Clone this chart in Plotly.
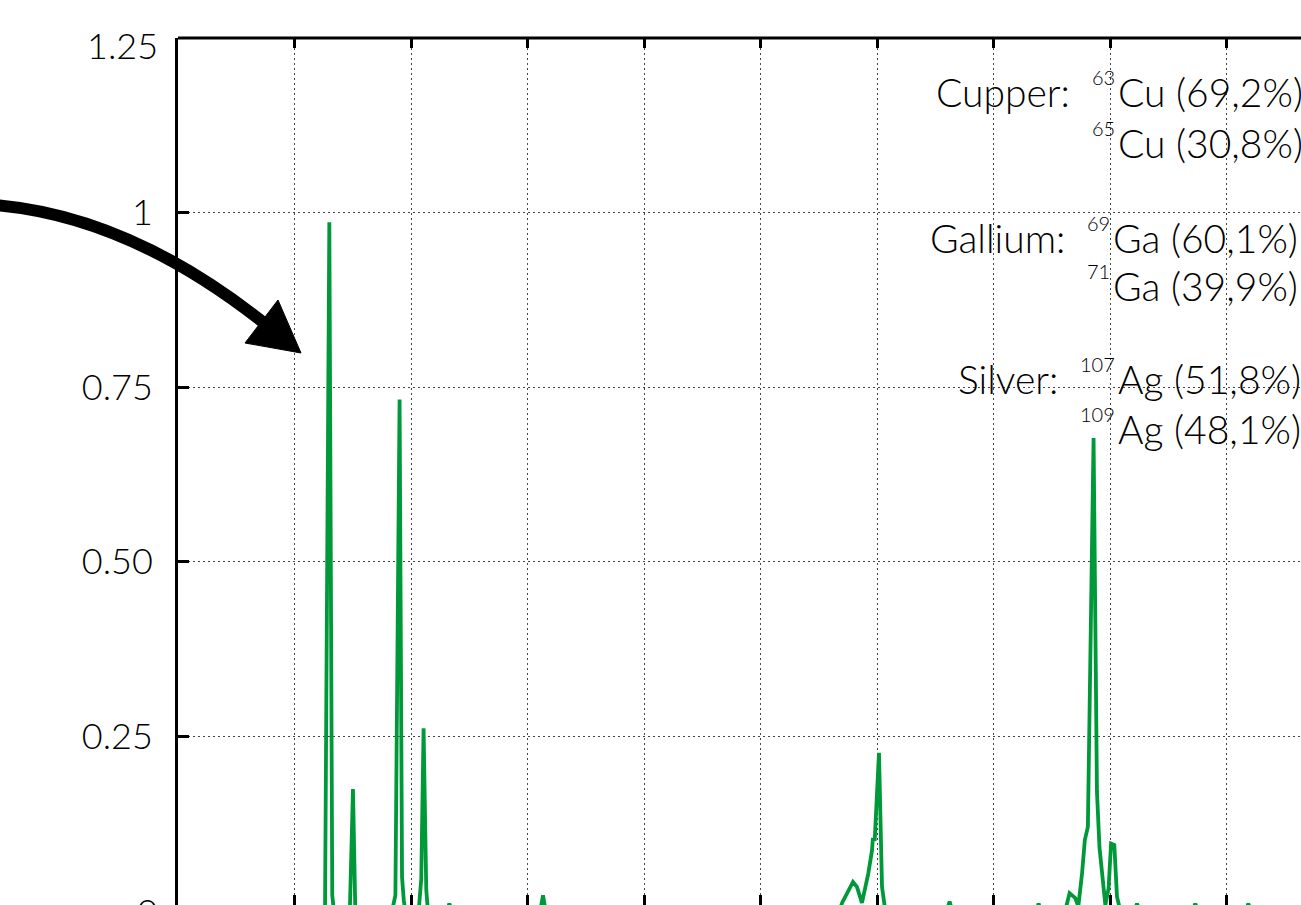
import plotly.graph_objects as go

# Mass spectrum (m/z vs normalised intensity)
mz = [50.0, 62.62, 62.99, 63.18, 63.24, 63.38,
      64.75, 65.02, 65.22,
      68.38, 68.66, 69.02, 69.17, 69.23, 69.38, 69.50,
      70.66, 70.88, 71.08, 71.24, 71.31, 71.45,
      73.10, 73.29, 73.50,
      81.10, 81.33, 81.55,
      106.80, 107.00, 107.94, 108.28, 108.71, 109.25, 109.57, 109.65, 109.80,
      110.17, 110.43, 110.71,
      116.00, 116.23, 116.45,
      123.70, 123.87, 124.05,
      126.16, 126.53, 127.02, 127.28, 127.60, 127.84, 128.10, 128.59, 128.88,
      129.10, 129.45, 129.60, 129.88, 130.09, 130.37, 130.60, 130.88,
      132.10, 132.32, 132.55,
      137.10, 137.32, 137.55,
      141.65, 141.87, 142.10, 146.5]
intensity = [0.0, 0.0, 0.986, 0.025, 0.022, 0.0,
             0.0, 0.174, 0.0,
             0.0, 0.022, 0.732, 0.06, 0.048, 0.015, 0.0,
             0.0, 0.045, 0.261, 0.05, 0.03, 0.0,
             0.0, 0.01, 0.0,
             0.0, 0.022, 0.0,
             0.0, 0.011, 0.041, 0.034, 0.011, 0.053, 0.086, 0.104, 0.10,
             0.226, 0.034, 0.0,
             0.0, 0.013, 0.0,
             0.0, 0.01, 0.0,
             0.0, 0.025, 0.018, 0.006, 0.053, 0.101, 0.12, 0.677, 0.17,
             0.09, 0.025, 0.008, 0.032, 0.096, 0.094, 0.02, 0.0,
             0.0, 0.01, 0.0,
             0.0, 0.01, 0.0,
             0.0, 0.01, 0.0, 0.0]

x_grid = [60, 70, 80, 90, 100, 110, 120, 130, 140]
y_ticks = [0.25, 0.5, 0.75, 1.0]
y_tick_text = ["0.25", "0.50", "0.75", "1"]

# Isotope legend: element, mass numbers, symbol, abundance
elements = ["Cupper:", "Gallium:", "Silver:"]
iso_mass = [["63", "65"], ["69", "71"], ["107", "109"]]
iso_symbol = ["Cu", "Ga", "Ag"]
iso_abund = [["69,2%", "30,8%"], ["60,1%", "39,9%"], ["51,8%", "48,1%"]]

W, H = 1301, 905
ML, MT = 178, 38
PW, PH = W - ML, H - MT
FONT = "Lato"
WEIGHT = 300
GREEN = "#00993a"


def px_x(px):
    return (px - ML) / PW


def px_y(py):
    return (H - py) / PH


fig = go.Figure()
fig.add_trace(go.Scatter(x=mz, y=intensity, mode="lines",
                         line=dict(color=GREEN, width=3.8), showlegend=False,
                         hoverinfo="skip"))

x_range = [50, 50 + PW / 11.65]
y_per_px = 1.25 / (910.6 - MT)
y_range = [(910.6 - H) * y_per_px, 1.25]

tick_font = dict(family=FONT, size=36, color="black", weight=WEIGHT)

fig.update_layout(
    width=W, height=H,
    margin=dict(l=ML, r=0, t=MT, b=0, pad=0),
    paper_bgcolor="white", plot_bgcolor="white",
    font=dict(family=FONT, size=34, color="black", weight=WEIGHT),
    xaxis=dict(range=x_range, tickvals=x_grid, showticklabels=False,
               showgrid=True, gridcolor="#444", gridwidth=1.2, griddash="2px,3px",
               ticks="inside", ticklen=10, tickwidth=3, tickcolor="black",
               mirror="ticks", showline=False, zeroline=False),
    yaxis=dict(range=y_range, tickvals=y_ticks, ticktext=y_tick_text,
               showgrid=True, gridcolor="#444", gridwidth=1.2, griddash="2px,3px",
               ticks="inside", ticklen=11, tickwidth=2.5, tickcolor="black",
               showline=True, linecolor="black", linewidth=3, mirror=False,
               zeroline=False, ticklabelstandoff=15, tickfont=tick_font),
)

shapes = []
# top frame line
shapes.append(dict(type="line", xref="paper", yref="paper", x0=0, x1=1.02,
                   y0=1, y1=1, line=dict(color="black", width=3)))

# curved pointer arrow (shaft + head)
p0 = (-5, 205)
p1 = (129, 216)
p2 = (264, 323)
shaft = "M {},{} Q {},{} {},{}".format(px_x(p0[0]), px_y(p0[1]), px_x(p1[0]), px_y(p1[1]),
                                       px_x(p2[0]), px_y(p2[1]))
shapes.append(dict(type="path", xref="paper", yref="paper", path=shaft,
                   line=dict(color="black", width=12), layer="above"))
head_pts = [(301, 353), (245, 343), (278, 300)]
head = "M {},{} L {},{} L {},{} Z".format(*[v for p in head_pts for v in (px_x(p[0]), px_y(p[1]))])
shapes.append(dict(type="path", xref="paper", yref="paper", path=head,
                   fillcolor="black", line=dict(color="black", width=1), layer="above"))
fig.update_layout(shapes=shapes)

ann = []
# axis end labels
ann.append(dict(xref="paper", yref="paper", x=px_x(160), y=px_y(45), text="1.25",
                xanchor="right", yanchor="middle", showarrow=False, font=tick_font))
ann.append(dict(xref="paper", yref="paper", x=px_x(160), y=px_y(911), text="0",
                xanchor="right", yanchor="middle", showarrow=False, font=tick_font))

# isotope legend
LEG = 39
baselines = [[106, 157], [252, 300], [393, 443]]
name_right = [1070, 1065, 1058]
sym_left = [[1116, 1116], [1111, 1111], [1116, 1116]]
for i, el in enumerate(elements):
    ann.append(dict(xref="paper", yref="paper", x=px_x(name_right[i] + 2),
                    y=px_y(baselines[i][0] - 14), text=el, xanchor="right",
                    yanchor="middle", showarrow=False,
                    font=dict(family=FONT, size=LEG, color="black", weight=WEIGHT)))
    for j in range(2):
        bl = baselines[i][j]
        ann.append(dict(xref="paper", yref="paper", x=px_x(sym_left[i][j]),
                        y=px_y(bl - 14),
                        text="{} ({})".format(iso_symbol[i], iso_abund[i][j]),
                        xanchor="left", yanchor="middle", showarrow=False,
                        font=dict(family=FONT, size=LEG, color="black", weight=WEIGHT)))
        ann.append(dict(xref="paper", yref="paper", x=px_x(sym_left[i][j] + 1),
                        y=px_y(bl - 29), text=iso_mass[i][j],
                        xanchor="right", yanchor="middle", showarrow=False,
                        font=dict(family=FONT, size=20, color="black", weight=WEIGHT)))
fig.update_layout(annotations=ann)

fig.write_html("out.html")
